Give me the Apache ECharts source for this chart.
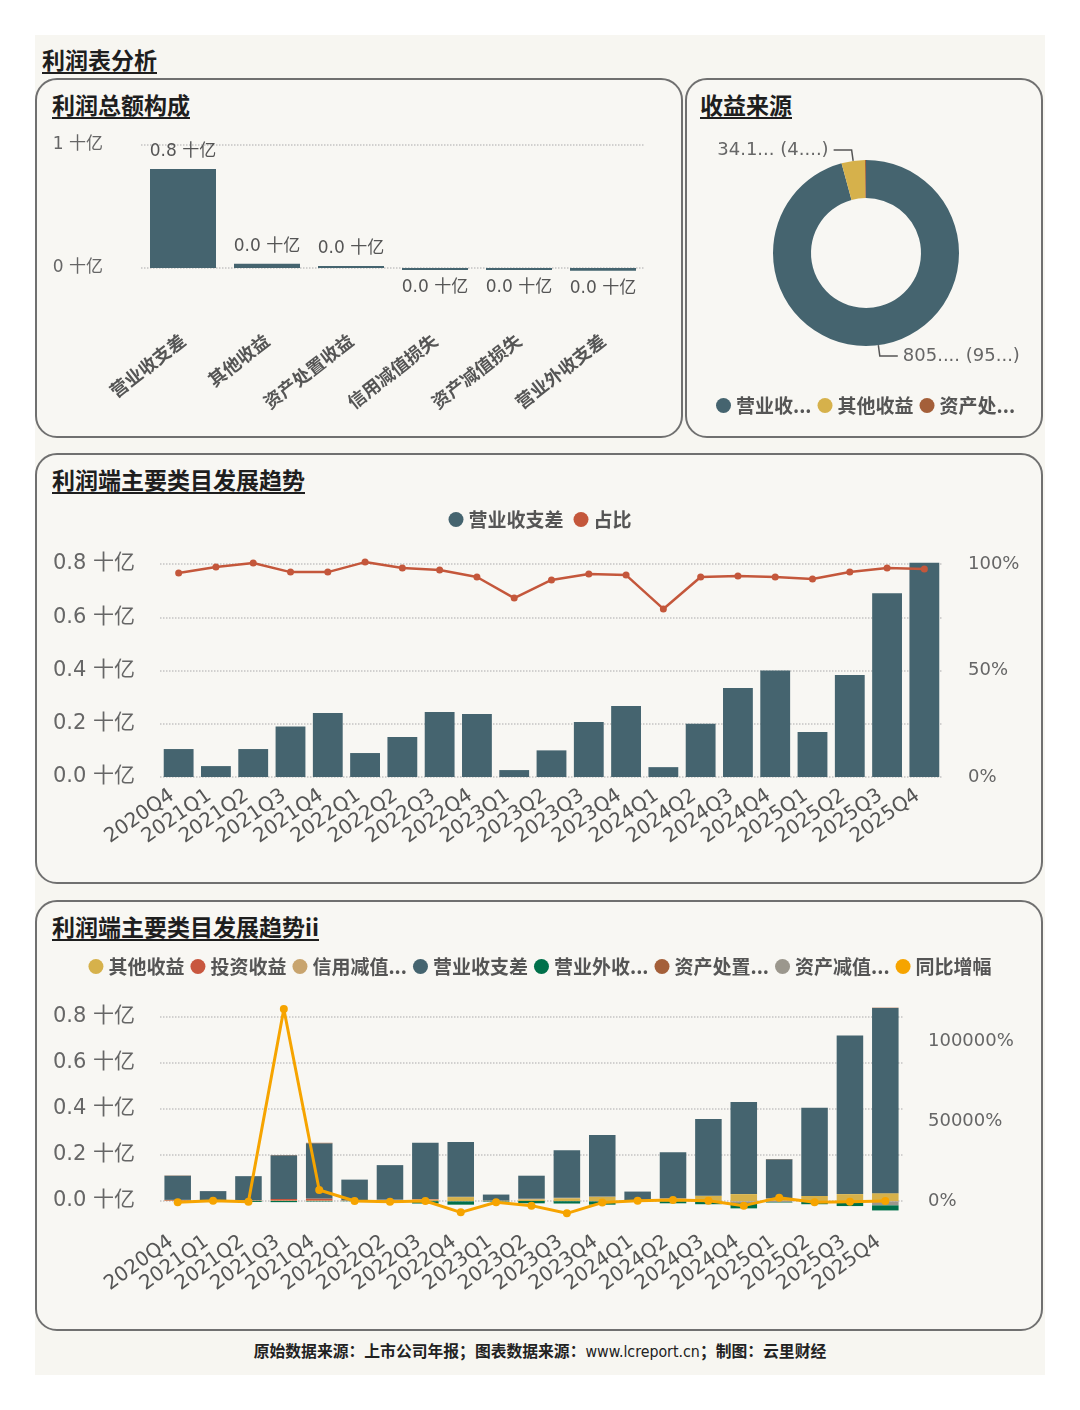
<!DOCTYPE html>
<html>
<head>
<meta charset="utf-8">
<script src="https://cdn.jsdelivr.net/npm/echarts@6/dist/echarts.min.js"></script>
<style>
body { margin: 0; background: #fff; font-family: "DejaVu Sans", "Noto Sans CJK SC", sans-serif; }
#page { position: relative; width: 1080px; height: 1410px; }
.sheet { position: absolute; left: 35px; top: 35px; width: 1010px; height: 1340px; background: #f7f6f1; }
.panel { position: absolute; border: 2px solid #707070; border-radius: 22px; background: #f8f7f3; box-sizing: border-box; }
.ttl { position: absolute; font-family: "Noto Sans CJK SC", sans-serif; font-weight: bold; font-size: 23px; line-height: 1;
       color: #1e1e1e; text-decoration: underline; text-underline-offset: 3px; white-space: nowrap; }
#foot { position: absolute; left: 0; top: 1343px; width: 1080px; text-align: center; font-size: 15.8px; line-height: 1;
        color: #222; font-family: "Noto Sans CJK SC", sans-serif; font-weight: bold; }
#foot span { font-family: "DejaVu Sans Condensed", "DejaVu Sans", sans-serif; font-weight: normal; }
#main { position: absolute; left: 0; top: 0; width: 1080px; height: 1410px; }
</style>
</head>
<body>
<div id="page">
  <div class="sheet"></div>
  <div class="ttl" style="left:42px;top:48px;">利润表分析</div>
  <div class="panel" style="left:35px;top:78px;width:648px;height:360px;"></div>
  <div class="panel" style="left:685px;top:78px;width:358px;height:360px;"></div>
  <div class="panel" style="left:35px;top:453px;width:1008px;height:431px;"></div>
  <div class="panel" style="left:35px;top:900px;width:1008px;height:431px;"></div>
  <div class="ttl" style="left:52px;top:93px;">利润总额构成</div>
  <div class="ttl" style="left:700px;top:93px;">收益来源</div>
  <div class="ttl" style="left:52px;top:468px;">利润端主要类目发展趋势</div>
  <div class="ttl" style="left:52px;top:915px;">利润端主要类目发展趋势ii</div>
  <div id="foot">原始数据来源：上市公司年报；图表数据来源：<span>www.lcreport.cn</span>；制图：云里财经</div>
  <div id="main"></div>
</div>
<script>
// 利润总额构成 (十亿)
var compNames = ['营业收支差', '其他收益', '资产处置收益', '信用减值损失', '资产减值损失', '营业外收支差'];
var compValues = [0.80526, 0.03412, 0.0015, -0.002, -0.017, -0.022];

// 收益来源 (百万)
var pieNames = ['营业收支差', '其他收益', '资产处置收益'];
var pieValues = [805.26, 34.12, 1.5];

var quarters = ['2020Q4', '2021Q1', '2021Q2', '2021Q3', '2021Q4', '2022Q1', '2022Q2', '2022Q3', '2022Q4',
                '2023Q1', '2023Q2', '2023Q3', '2023Q4', '2024Q1', '2024Q2', '2024Q3', '2024Q4',
                '2025Q1', '2025Q2', '2025Q3', '2025Q4'];

// 十亿
var netOp     = [0.105, 0.041, 0.105, 0.19, 0.24, 0.09, 0.15, 0.244, 0.237, 0.026, 0.10, 0.207, 0.267, 0.037, 0.20, 0.334, 0.40, 0.169, 0.383, 0.69, 0.805];
var otherInc  = [0.002, 0.001, 0.002, 0.002, 0.002, 0.002, 0.003, 0.004, 0.017, 0.002, 0.007, 0.012, 0.018, 0.003, 0.008, 0.023, 0.03, 0.004, 0.022, 0.03, 0.034];
var invInc    = [0.003, 0.001, 0.001, 0.007, 0.009, 0.001, 0.002, 0.003, 0, 0, 0, 0, 0, 0, 0, 0, 0, 0.004, 0, 0, 0];
var creditImp = [0, 0, 0, 0, 0, 0, 0.001, 0.002, 0.002, 0, 0.003, 0.002, 0.002, 0.001, 0.004, 0, -0.002, 0.004, 0, -0.002, -0.002];
var nonOp     = [0, 0, -0.004, -0.005, -0.002, -0.001, -0.008, -0.01, -0.014, -0.002, -0.01, -0.01, -0.014, -0.001, -0.009, -0.012, -0.022, -0.002, -0.012, -0.016, -0.022];
var assetDisp = [0.001, 0, 0, 0.001, 0.002, 0, 0, 0, 0, 0, 0, 0, 0, 0, 0, 0, 0, 0.001, 0, 0, 0.0015];
var assetImp  = [0, 0, 0, 0, 0, 0, 0, -0.001, -0.002, -0.001, 0, -0.001, -0.002, -0.002, -0.001, -0.002, -0.008, -0.005, -0.002, -0.004, -0.017];

// %
var shareOfProfit = [95.8, 98.6, 100.5, 96.2, 96.2, 100.9, 98.1, 97.2, 93.9, 84.0, 92.5, 95.3, 94.8, 78.9, 93.9, 94.4, 93.9, 93.0, 96.2, 98.1, 97.7];
var yoyGrowth = [-800, 200, -400, 120000, 6900, 0, -400, 0, -7100, -800, -2900, -7700, -1000, 200, 600, 200, -2900, 2100, -800, -400, 0];

var teal = '#45646f', yellow = '#d6b14b', red = '#c8573f', tan = '#c8a46e', green = '#00704a',
    brown = '#a45f39', grey = '#9b978d', orange = '#f6a400', shareRed = '#c4573b';

var myChart = echarts.init(document.getElementById('main'));

function cut(s, n) {
    s = String(s);
    return s.length > n ? s.slice(0, n) + '...' : s;
}

var dotted = {show: true, lineStyle: {type: 'dotted', color: '#c4c4c4', width: 1.5}};
var legendTxt = {color: '#555', fontSize: 19, fontWeight: 'bold', fontFamily: 'Noto Sans CJK SC'};

function billion(v) {
    return v.toFixed(1) + ' 十亿';
}

function stackBar(name, data, color) {
    return {
        name: name, type: 'bar', xAxisIndex: 2, yAxisIndex: 3, stack: 'total',
        data: data, barWidth: '75%', clip: false, itemStyle: {color: color}
    };
}

var option = {
    animation: false,
    textStyle: {fontFamily: '"DejaVu Sans", "Noto Sans CJK SC", sans-serif'},
    legend: [{
        data: pieNames, left: 711, top: 391, icon: 'circle', itemWidth: 15, itemHeight: 15, itemGap: 6,
        textStyle: legendTxt,
        formatter: function (n) { return n.length > 4 ? n.slice(0, 3) + '...' : n; }
    }, {
        data: ['营业收支差', '占比'], left: 'center', top: 505, icon: 'circle', itemWidth: 15, itemHeight: 15, itemGap: 10,
        textStyle: legendTxt
    }, {
        data: ['其他收益', '投资收益', '信用减值损失', '营业收支差', '营业外收支差', '资产处置收益', '资产减值损失', '同比增幅'],
        left: 'center', top: 952, icon: 'circle', itemWidth: 15, itemHeight: 15, itemGap: 6,
        textStyle: legendTxt,
        formatter: function (n) { return n.length > 5 ? n.slice(0, 4) + '...' : n; }
    }],
    grid: [
        {left: 141, right: 435, top: 145, height: 123},
        {left: 160, right: 137, top: 564, height: 213},
        {left: 160, right: 177, top: 1017, height: 184}
    ],
    xAxis: [{
        gridIndex: 0, type: 'category', data: compNames,
        axisLine: {show: false}, axisTick: {show: false},
        axisLabel: {interval: 0, rotate: 38, margin: 70, fontSize: 18, fontWeight: 'bold', color: '#555', fontFamily: 'Noto Sans CJK SC'}
    }, {
        gridIndex: 1, type: 'category', data: quarters,
        axisLine: {show: false}, axisTick: {show: false},
        axisLabel: {interval: 0, rotate: 35, margin: 12, fontSize: 20, color: '#555', padding: [0, 8, 0, 0]}
    }, {
        gridIndex: 2, type: 'category', data: quarters,
        axisLine: {show: false}, axisTick: {show: false},
        axisLabel: {interval: 0, rotate: 36, margin: 34, fontSize: 20, color: '#555', padding: [0, 8, 0, 0]}
    }],
    yAxis: [{
        gridIndex: 0, type: 'value', min: 0, max: 1, interval: 1, splitLine: dotted,
        axisLabel: {color: '#666', fontSize: 17, margin: 38, formatter: function (v) { return v + ' 十亿'; }}
    }, {
        gridIndex: 1, type: 'value', min: 0, max: 0.8, interval: 0.2, splitLine: dotted,
        axisLabel: {color: '#666', fontSize: 21, margin: 25, formatter: billion}
    }, {
        gridIndex: 1, type: 'value', position: 'right', min: 0, max: 100, interval: 50, splitLine: {show: false},
        axisLabel: {color: '#666', fontSize: 18, margin: 25, formatter: '{value}%'}
    }, {
        gridIndex: 2, type: 'value', min: 0, max: 0.8, interval: 0.2, splitLine: dotted,
        axisLabel: {color: '#666', fontSize: 21, margin: 25, formatter: billion}
    }, {
        gridIndex: 2, type: 'value', position: 'right', min: 0, max: 115000, interval: 50000, splitLine: {show: false},
        axisLabel: {color: '#666', fontSize: 18, margin: 25, formatter: function (v) { return v % 50000 === 0 ? v + '%' : ''; }}
    }],
    series: [{
        name: '利润总额构成', type: 'bar', xAxisIndex: 0, yAxisIndex: 0, barWidth: 66, barMinHeight: 2, clip: false,
        itemStyle: {color: teal},
        label: {show: true, color: '#555', fontSize: 17, distance: 9, formatter: function (p) { return billion(Math.round(p.value * 10) / 10); }},
        data: compValues.map(function (v) { return {value: v, label: {position: v < 0 ? 'bottom' : 'top'}}; })
    }, {
        name: '收益来源', type: 'pie', center: [866, 253], radius: [55, 93], startAngle: 90,
        label: {color: '#666', fontSize: 18, formatter: function (p) { return cut(p.value, 4) + ' (' + cut(p.percent, 2) + ')'; }},
        labelLine: {length: 11, length2: 18, lineStyle: {color: '#555', width: 1.5}},
        data: pieNames.map(function (n, i) {
            var item = {name: n, value: pieValues[i], itemStyle: {color: [teal, yellow, brown][i]}};
            if (i === 2) { item.label = {show: false}; item.labelLine = {show: false}; }
            return item;
        })
    }, {
        name: '营业收支差', type: 'bar', xAxisIndex: 1, yAxisIndex: 1, data: netOp, barWidth: '80%', clip: false,
        itemStyle: {color: teal}
    }, {
        name: '占比', type: 'line', xAxisIndex: 1, yAxisIndex: 2, data: shareOfProfit, clip: false,
        symbol: 'circle', symbolSize: 7, itemStyle: {color: shareRed}, lineStyle: {color: shareRed, width: 2.5}
    },
        stackBar('其他收益', otherInc, yellow),
        stackBar('投资收益', invInc, red),
        stackBar('信用减值损失', creditImp, tan),
        stackBar('营业收支差', netOp, teal),
        stackBar('资产处置收益', assetDisp, brown),
        stackBar('资产减值损失', assetImp, grey),
        stackBar('营业外收支差', nonOp, green),
    {
        name: '同比增幅', type: 'line', xAxisIndex: 2, yAxisIndex: 4, data: yoyGrowth, clip: false, z: 5,
        symbol: 'circle', symbolSize: 8, itemStyle: {color: orange}, lineStyle: {color: orange, width: 3}
    }]
};

myChart.setOption(option);
</script>
</body>
</html>
